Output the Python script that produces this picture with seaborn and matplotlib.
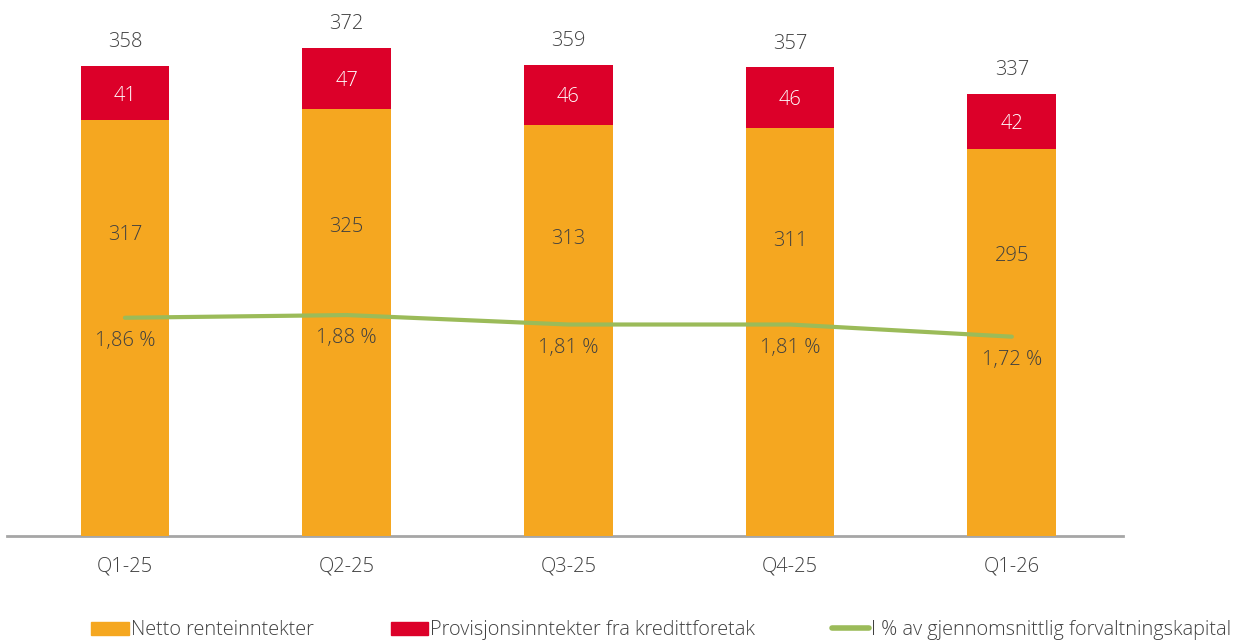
import seaborn as sns
import matplotlib.pyplot as plt
import matplotlib.patches as mpatches
import matplotlib.lines as mlines
import numpy as np
import pandas as pd

# data
quarters = ["Q1-25", "Q2-25", "Q3-25", "Q4-25", "Q1-26"]
netto = [317, 325, 313, 311, 295]
provisjon = [41, 47, 46, 46, 42]
pct = [1.86, 1.88, 1.81, 1.81, 1.72]

ORANGE = "#F5A720"
RED = "#DC0029"
GREEN = "#9BBB59"
TXT = "#404040"
FS = 14.5

sns.set_theme(style="white")
plt.rcParams['font.family'] = ['Open Sans', 'DejaVu Sans']
plt.rcParams['font.weight'] = 'light'

df = pd.DataFrame({"kvartal": quarters, "netto": netto, "provisjon": provisjon, "pct": pct})
df["total"] = df["netto"] + df["provisjon"]

fig = plt.figure(figsize=(12.48, 6.43), dpi=100)
ax = fig.add_axes([0.0056, 0.1664, 0.894, 0.8165])

# stacked bars: total (red) underneath, netto (orange) in front
sns.barplot(data=df, x="kvartal", y="total", color=RED, width=0.4, saturation=1,
            linewidth=0, ax=ax, zorder=2)
sns.barplot(data=df, x="kvartal", y="netto", color=ORANGE, width=0.4, saturation=1,
            linewidth=0, ax=ax, zorder=3)

ax.set_ylim(0, 400)
ax.set_xlim(-0.532, 4.5)
ax.set_xlabel("")
ax.set_ylabel("")
ax.set_yticks([])
for s in ["top", "right", "left"]:
    ax.spines[s].set_visible(False)
ax.spines["bottom"].set_color("#A6A6A6")
ax.spines["bottom"].set_linewidth(2)
ax.tick_params(axis="x", length=0, pad=15, labelsize=FS, labelcolor=TXT)

for i, row in df.iterrows():
    ax.text(i, row["netto"] * 0.73, f"{row['netto']}", ha="center", va="center_baseline",
            fontsize=FS, color=TXT, zorder=5)
    ax.text(i, row["netto"] + row["provisjon"] / 2, f"{row['provisjon']}", ha="center",
            va="center_baseline", fontsize=FS, color="white", zorder=5)
    ax.annotate(f"{row['total']}", (i, row["total"]), xytext=(0, 19), textcoords="offset points",
                ha="center", va="center_baseline", fontsize=FS, color=TXT)

# percentage line on secondary axis
ax2 = ax.twinx()
xpos = np.arange(len(quarters))
sns.lineplot(x=xpos, y=pct, color=GREEN, linewidth=3, ax=ax2, zorder=4)
ax2.set_ylim(0.245, 4.13)
ax2.set_yticks([])
for s in ax2.spines.values():
    s.set_visible(False)
for i, v in enumerate(pct):
    ax2.annotate(f"{v:.2f} %".replace(".", ","), (i, v), xytext=(0, -15), textcoords="offset points",
                 ha="center", va="center_baseline", fontsize=FS, color=TXT)

handles = [
    mpatches.Patch(color=ORANGE, label="Netto renteinntekter"),
    mpatches.Patch(color=RED, label="Provisjonsinntekter fra kredittforetak"),
    mlines.Line2D([], [], color=GREEN, linewidth=4, label="I % av gjennomsnittlig forvaltningskapital"),
]
fig.legend(handles=handles, loc="center", bbox_to_anchor=(0.53, 0.02), ncol=3, frameon=False,
           fontsize=14.3, handlelength=1.9, handleheight=0.65, handletextpad=0.1, columnspacing=3.85,
           labelcolor=TXT, borderaxespad=0, borderpad=0)

fig.savefig("out.png", dpi=100)
